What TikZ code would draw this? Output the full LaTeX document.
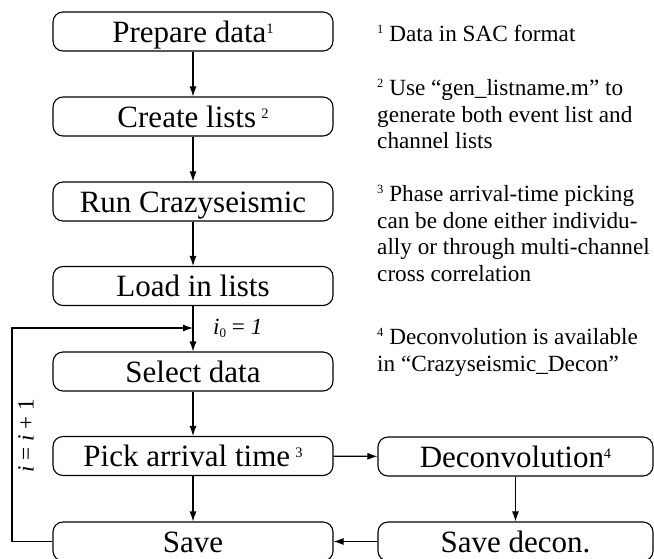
\documentclass[tikz,border=0pt]{standalone}
\usepackage{fontspec}
\setmainfont{Liberation Serif}
\usetikzlibrary{arrows.meta}
\newcommand\boxsup[1]{\raisebox{9pt}{\fontsize{14.5}{14.5}\selectfont #1}}
\newcommand\notesup[1]{\raisebox{8.5pt}{\fontsize{12.5}{12.5}\selectfont #1}}
\begin{document}
\begin{tikzpicture}[x=1pt,y=-1pt,
  box/.style={draw,line width=1.1pt,rounded corners=10pt,minimum width=280pt,minimum height=39pt,inner sep=0pt,text height=28pt,text depth=7pt,font=\fontsize{31}{31}\selectfont},
  arr/.style={line width=1.1pt,-{Latex[length=10pt,width=7pt]}},
  note/.style={anchor=base west,inner sep=0pt,font=\fontsize{23.2}{26}\selectfont}]
\useasboundingbox (0,0) rectangle (654,558);
\clip (0,0) rectangle (654,558);

\node[box] (prep)   at (193,31.5)  {Prepare data\boxsup{1}};
\node[box] (create) at (193,116.5) {Create lists\,\boxsup{2}};
\node[box] (run)    at (193,201.5) {Run Crazyseismic};
\node[box] (load)   at (193,286)   {Load in lists};
\node[box] (select) at (193,371.5) {Select data};
\node[box] (pick)   at (193,456)   {Pick arrival time\,\boxsup{3}};
\node[box] (save)   at (193,541.5) {Save};
\node[box,minimum width=275pt] (decon)     at (515.5,456.5) {Deconvolution\boxsup{4}};
\node[box,minimum width=275pt] (savedecon) at (515.5,541.5) {Save decon.};

\draw[arr] (prep) -- (create);
\draw[arr] (create) -- (run);
\draw[arr] (run) -- (load);
\draw[arr] (load) -- (select);
\draw[arr] (select) -- (pick);
\draw[arr] (pick) -- (save);
\draw[arr] (pick) -- (decon);
\draw[arr] (decon) -- (savedecon);
\draw[arr] (savedecon) -- (save);

\coordinate (lc) at (12,328);
\coordinate (lp) at (193,328);
\draw[arr] (save.west) -| (lc) -- (lp);

\node[note] (i0) at (213,334) {\textit{i}\raisebox{-3pt}{\fontsize{13}{13}\selectfont 0} = \textit{1}};
\node[rotate=90,inner sep=0pt,font=\fontsize{23.2}{26}\selectfont] (incr) at (26,436) {\textit{i} = \textit{i} + 1};

\node[note] (n1)  at (377,41.5)  {\notesup{1} Data in SAC format};
\node[note] (n2a) at (377,95.5)  {\notesup{2} Use “gen\_listname.m” to};
\node[note] (n2b) at (377,122)   {generate both event list and};
\node[note] (n2c) at (377,148.5) {channel lists};
\node[note] (n3a) at (377,201.5) {\notesup{3} Phase arrival-time picking};
\node[note] (n3b) at (377,228)   {can be done either individu-};
\node[note] (n3c) at (377,254.5) {ally or through multi-channel};
\node[note] (n3d) at (377,281)   {cross correlation};
\node[note] (n4a) at (377,344.5) {\notesup{4} Deconvolution is available};
\node[note] (n4b) at (377,371)   {in “Crazyseismic\_Decon”};
\end{tikzpicture}
\end{document}
